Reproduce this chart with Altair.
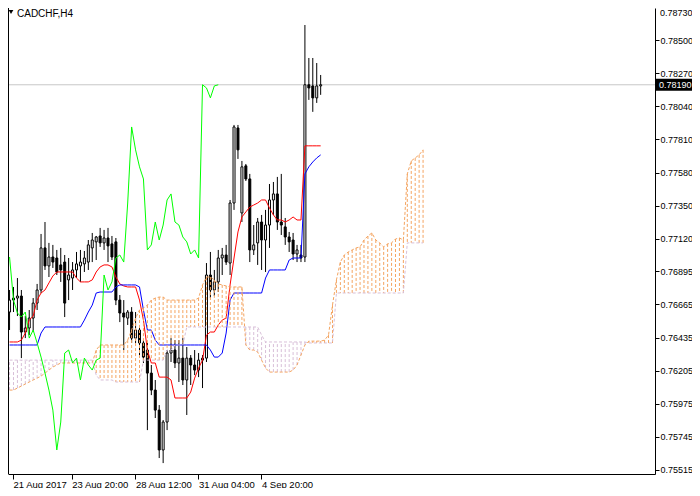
import altair as alt
import pandas as pd

symbol = "CADCHF,H4"
last_price = 0.78190

# H4 candles (bar index 0..79)
opens = [0.76612, 0.76695, 0.76709, 0.76723, 0.76473, 0.76501, 0.76570, 0.76674, 0.76765, 0.77057,
         0.76932, 0.76994, 0.76987, 0.76939, 0.76959, 0.76835, 0.76848, 0.76904, 0.76932, 0.76946,
         0.76959, 0.77057, 0.77099, 0.77140, 0.77092, 0.77126, 0.77085, 0.77099, 0.76695, 0.76605,
         0.76570, 0.76612, 0.76431, 0.76487, 0.76397, 0.76348, 0.76188, 0.76070, 0.75931, 0.75654,
         0.75848, 0.76327, 0.76348, 0.76258, 0.76292, 0.76140, 0.76292, 0.76244, 0.76209, 0.76278,
         0.76292, 0.76869, 0.76765, 0.76821, 0.76987, 0.77008, 0.76952, 0.77369, 0.77890, 0.77300,
         0.77627, 0.77536, 0.77043, 0.77092, 0.77237, 0.77112, 0.77216, 0.77390, 0.77432, 0.77237,
         0.77203, 0.77133, 0.77112, 0.77015, 0.77008, 0.76994, 0.78190, 0.78182, 0.78099, 0.78182]
highs = [0.76765, 0.76786, 0.76848, 0.76765, 0.76584, 0.76626, 0.76709, 0.76807, 0.77154, 0.77237,
         0.77092, 0.77078, 0.77043, 0.77057, 0.77008, 0.76987, 0.76959, 0.77029, 0.77043, 0.77036,
         0.77112, 0.77161, 0.77140, 0.77196, 0.77182, 0.77196, 0.77140, 0.77126, 0.76730, 0.76695,
         0.76626, 0.76646, 0.76612, 0.76522, 0.76417, 0.76397, 0.76244, 0.76140, 0.75966, 0.75862,
         0.76348, 0.76431, 0.76417, 0.76417, 0.76431, 0.76369, 0.76313, 0.76348, 0.76327, 0.76313,
         0.76952, 0.77029, 0.76904, 0.77043, 0.77057, 0.77078, 0.77390, 0.77911, 0.77911, 0.77661,
         0.77640, 0.77571, 0.77216, 0.77265, 0.77286, 0.77321, 0.77501, 0.77515, 0.77550, 0.77571,
         0.77265, 0.77168, 0.77161, 0.77078, 0.77078, 0.78605, 0.78376, 0.78376, 0.78341, 0.78258]
lows = [0.76487, 0.76612, 0.76584, 0.76292, 0.76431, 0.76452, 0.76473, 0.76626, 0.76744, 0.76904,
        0.76855, 0.76918, 0.76869, 0.76821, 0.76577, 0.76695, 0.76765, 0.76848, 0.76821, 0.76890,
        0.76904, 0.76959, 0.76973, 0.77064, 0.77043, 0.76959, 0.76973, 0.76660, 0.76542, 0.76348,
        0.76522, 0.76397, 0.76397, 0.76313, 0.76258, 0.75792, 0.76035, 0.75876, 0.75598, 0.75563,
        0.75792, 0.76265, 0.76223, 0.76126, 0.76105, 0.75897, 0.76105, 0.76174, 0.76160, 0.76084,
        0.76265, 0.76709, 0.76723, 0.76751, 0.76869, 0.76939, 0.76869, 0.77321, 0.77675, 0.77237,
        0.77522, 0.76959, 0.77008, 0.76939, 0.76904, 0.76890, 0.77057, 0.77286, 0.77182, 0.77147,
        0.77078, 0.77029, 0.76973, 0.76959, 0.76959, 0.76959, 0.78085, 0.78002, 0.78064, 0.78120]
closes = [0.76695, 0.76709, 0.76723, 0.76473, 0.76501, 0.76570, 0.76674, 0.76765, 0.77057, 0.76932,
          0.76994, 0.76959, 0.76890, 0.76904, 0.76674, 0.76869, 0.76904, 0.76946, 0.76959, 0.76987,
          0.77078, 0.77112, 0.77133, 0.77092, 0.77126, 0.77071, 0.76994, 0.76695, 0.76605, 0.76577,
          0.76612, 0.76431, 0.76487, 0.76397, 0.76299, 0.76188, 0.76070, 0.75931, 0.75654, 0.75848,
          0.76327, 0.76348, 0.76258, 0.76292, 0.76140, 0.76292, 0.76244, 0.76209, 0.76278, 0.76292,
          0.76869, 0.76765, 0.76821, 0.76987, 0.77008, 0.76959, 0.77369, 0.77897, 0.77738, 0.77620,
          0.77536, 0.77043, 0.77078, 0.77237, 0.77112, 0.77216, 0.77390, 0.77432, 0.77237, 0.77216,
          0.77133, 0.77099, 0.77015, 0.77043, 0.76987, 0.78190, 0.78168, 0.78099, 0.78182, 0.78190]

# Ichimoku lines (bar index 0..79)
tenkan = [0.76404, 0.76404, 0.76404, 0.76417, 0.76466, 0.76556, 0.76584, 0.76695, 0.76744, 0.76765,
          0.76814, 0.76862, 0.76890, 0.76890, 0.76890, 0.76890, 0.76890, 0.76848, 0.76821, 0.76821,
          0.76821, 0.76835, 0.76890, 0.76925, 0.76939, 0.76939, 0.76925, 0.76855, 0.76807, 0.76793,
          0.76786, 0.76786, 0.76786, 0.76695, 0.76556, 0.76348, 0.76258, 0.76258, 0.76160, 0.76160,
          0.76160, 0.76140, 0.76015, 0.76015, 0.76015, 0.76015, 0.76056, 0.76153, 0.76223, 0.76278,
          0.76452, 0.76473, 0.76473, 0.76522, 0.76556, 0.76570, 0.76800, 0.76987, 0.77168, 0.77272,
          0.77307, 0.77341, 0.77355, 0.77369, 0.77390, 0.77390, 0.77334, 0.77286, 0.77251, 0.77251,
          0.77237, 0.77251, 0.77272, 0.77251, 0.77251, 0.77766, 0.77766, 0.77766, 0.77766, 0.77766]
kijun = [0.76383, 0.76383, 0.76383, 0.76383, 0.76383, 0.76383, 0.76383, 0.76383, 0.76466, 0.76508,
         0.76508, 0.76508, 0.76508, 0.76508, 0.76508, 0.76508, 0.76508, 0.76508, 0.76508, 0.76556,
         0.76612, 0.76660, 0.76744, 0.76751, 0.76751, 0.76751, 0.76751, 0.76786, 0.76800, 0.76800,
         0.76800, 0.76800, 0.76800, 0.76786, 0.76626, 0.76487, 0.76487, 0.76417, 0.76383, 0.76383,
         0.76383, 0.76383, 0.76383, 0.76383, 0.76383, 0.76383, 0.76383, 0.76383, 0.76383, 0.76383,
         0.76383, 0.76348, 0.76299, 0.76299, 0.76327, 0.76466, 0.76695, 0.76744, 0.76744, 0.76744,
         0.76744, 0.76744, 0.76744, 0.76744, 0.76744, 0.76848, 0.76904, 0.76904, 0.76904, 0.76904,
         0.76904, 0.76973, 0.76987, 0.76987, 0.76987, 0.77571, 0.77620, 0.77654, 0.77682, 0.77703]

# Senkou spans (bar index 0..105, shifted 26 bars ahead)
span_a = [0.76070, 0.76070, 0.76084, 0.76098, 0.76112, 0.76126, 0.76140, 0.76153, 0.76167, 0.76188,
          0.76209, 0.76230, 0.76244, 0.76258, 0.76258, 0.76258, 0.76258, 0.76258, 0.76258, 0.76258,
          0.76258, 0.76258, 0.76348, 0.76383, 0.76383, 0.76383, 0.76383, 0.76383, 0.76383, 0.76383,
          0.76417, 0.76487, 0.76570, 0.76626, 0.76639, 0.76660, 0.76695, 0.76709, 0.76716, 0.76716,
          0.76695, 0.76695, 0.76695, 0.76695, 0.76695, 0.76695, 0.76695, 0.76695, 0.76709, 0.76800,
          0.76855, 0.76855, 0.76835, 0.76807, 0.76800, 0.76793, 0.76786, 0.76786, 0.76786, 0.76786,
          0.76383, 0.76348, 0.76348, 0.76334, 0.76278, 0.76223, 0.76195, 0.76195, 0.76195, 0.76195,
          0.76195, 0.76195, 0.76209, 0.76244, 0.76313, 0.76383, 0.76410, 0.76410, 0.76410, 0.76410,
          0.76417, 0.76452, 0.76660, 0.76835, 0.76959, 0.77008, 0.77029, 0.77043, 0.77057, 0.77064,
          0.77112, 0.77140, 0.77161, 0.77112, 0.77092, 0.77064, 0.77085, 0.77092, 0.77119, 0.77126,
          0.77112, 0.77571, 0.77661, 0.77682, 0.77703, 0.77738]
span_b = [0.76278, 0.76278, 0.76278, 0.76278, 0.76278, 0.76278, 0.76278, 0.76278, 0.76278, 0.76278,
          0.76278, 0.76278, 0.76278, 0.76278, 0.76278, 0.76278, 0.76278, 0.76278, 0.76278, 0.76278,
          0.76278, 0.76278, 0.76174, 0.76140, 0.76140, 0.76140, 0.76140, 0.76126, 0.76126, 0.76126,
          0.76126, 0.76126, 0.76126, 0.76126, 0.76278, 0.76278, 0.76278, 0.76278, 0.76278, 0.76278,
          0.76348, 0.76348, 0.76383, 0.76383, 0.76383, 0.76508, 0.76508, 0.76508, 0.76508, 0.76508,
          0.76508, 0.76508, 0.76508, 0.76508, 0.76508, 0.76508, 0.76508, 0.76508, 0.76508, 0.76508,
          0.76508, 0.76508, 0.76508, 0.76508, 0.76452, 0.76404, 0.76404, 0.76404, 0.76404, 0.76404,
          0.76404, 0.76404, 0.76404, 0.76404, 0.76404, 0.76404, 0.76397, 0.76397, 0.76397, 0.76397,
          0.76397, 0.76397, 0.76397, 0.76744, 0.76744, 0.76744, 0.76744, 0.76744, 0.76744, 0.76744,
          0.76744, 0.76744, 0.76744, 0.76744, 0.76744, 0.76744, 0.76744, 0.76744, 0.76744, 0.76744,
          0.76744, 0.77092, 0.77092, 0.77092, 0.77092, 0.77092]

y_ticks = [0.78730, 0.78500, 0.78270, 0.78040, 0.77810, 0.77580, 0.77350, 0.77120,
           0.76895, 0.76665, 0.76435, 0.76205, 0.75975, 0.75745, 0.75515]
x_tick_bars = [0.875, 15.8, 31.95, 47.95, 63.95]
x_tick_labels = ["21 Aug 2017", "23 Aug 20:00", "28 Aug 12:00", "31 Aug 04:00", "4 Sep 20:00"]

CHIKOU_SHIFT = 26

# ---- tables
n = len(closes)
candles = pd.DataFrame({"i": list(range(n)), "open": opens, "high": highs, "low": lows, "close": closes})
candles["up"] = candles["close"] >= candles["open"]
lines = pd.DataFrame({"i": list(range(n)), "tenkan": tenkan, "kijun": kijun})
chikou = pd.DataFrame({"i": list(range(n - CHIKOU_SHIFT)), "chikou": closes[CHIKOU_SHIFT:]})
cloud = pd.DataFrame({"i": list(range(len(span_a))), "a": span_a, "b": span_b})
cloud["kind"] = ["bull" if a >= b else "bear" for a, b in zip(span_a, span_b)]
price_df = pd.DataFrame({"p": [last_price], "txt": [f"{last_price:.5f}"]})
top_df = pd.DataFrame({"p": [y_ticks[0]], "txt": [f"{y_ticks[0]:.5f}"]})

FONT = "Liberation Sans"
W, H = 647, 466

# label expression for the time axis
expr = "''"
for pos, lab in reversed(list(zip(x_tick_bars, x_tick_labels))):
    expr = f"datum.value <= {pos + 0.5} ? '{lab}' : ({expr})"

xs = alt.Scale(domain=[0.875, 162.625], nice=False, zero=False)
ys = alt.Scale(domain=[0.754872, 0.787231], nice=False, zero=False)

xaxis = alt.Axis(values=x_tick_bars, labelExpr=expr, title=None, grid=False,
                 domain=True, domainColor="black", tickColor="black", tickSize=5,
                 labelAlign="left", labelBaseline="alphabetic", labelPadding=8,
                 labelFont=FONT, labelFontSize=9.5, labelColor="black",
                 labelFlush=False, labelOverlap=False)
yaxis = alt.Axis(orient="right", values=y_ticks, format=".5f", title=None, grid=False,
                 domain=True, domainColor="black", tickColor="black", tickSize=4,
                 labelPadding=1, labelFont=FONT, labelFontSize=9, labelColor="black",
                 labelFlush=False, labelOverlap=False)

X = alt.X("i:Q", scale=xs, axis=xaxis)

def Y(field):
    return alt.Y(f"{field}:Q", scale=ys, axis=yaxis)

price_line = alt.Chart(price_df).mark_rule(color="#c8c8c8", strokeWidth=1).encode(y=Y("p"))

wicks = alt.Chart(candles).mark_rule(color="black", strokeWidth=1, clip=True).encode(
    x=X, y=Y("low"), y2="high")

bodies = alt.Chart(candles).mark_bar(size=2, stroke="black", strokeWidth=1, clip=True).encode(
    x=X, y=Y("open"), y2="close",
    fill=alt.condition("datum.up", alt.value("white"), alt.value("black")))

cloud_cols = alt.Chart(cloud).mark_rule(strokeDash=[3, 2], strokeWidth=1, clip=True).encode(
    x=X, y=Y("a"), y2="b",
    color=alt.Color("kind:N", scale=alt.Scale(domain=["bull", "bear"], range=["#F4A460", "#D8BFD8"]),
                    legend=None))

a_line = alt.Chart(cloud).mark_line(color="#F4A460", strokeWidth=1, strokeDash=[3, 2], clip=True).encode(
    x=X, y=Y("a"))
b_line = alt.Chart(cloud).mark_line(color="#D8BFD8", strokeWidth=1, strokeDash=[3, 2], clip=True).encode(
    x=X, y=Y("b"))

tenkan_l = alt.Chart(lines).mark_line(color="#FF0000", strokeWidth=1, clip=True).encode(x=X, y=Y("tenkan"))
kijun_l = alt.Chart(lines).mark_line(color="#0000FF", strokeWidth=1, clip=True).encode(x=X, y=Y("kijun"))
chikou_l = alt.Chart(chikou).mark_line(color="#00FF00", strokeWidth=1, clip=True).encode(x=X, y=Y("chikou"))

left_border = alt.Chart(price_df).mark_rule(color="black", strokeWidth=1).encode(
    x=alt.value(0.5), y=alt.value(0), y2=alt.value(H))

title_tri = alt.Chart(price_df).mark_point(shape="triangle-down", filled=True, color="black",
                                           size=22, opacity=1).encode(
    x=alt.value(3), y=alt.value(4))
title_txt = alt.Chart(price_df).mark_text(align="left", baseline="alphabetic", font=FONT,
                                          fontSize=10, color="black").encode(
    x=alt.value(9), y=alt.value(9), text=alt.value(symbol))

top_label = alt.Chart(top_df).mark_text(align="left", baseline="top", font=FONT, fontSize=9,
                                        color="black", clip=False, dy=2).encode(
    x=alt.value(W + 5), y=Y("p"), text="txt:N")

price_box = alt.Chart(price_df).mark_tick(orient="vertical", size=12, thickness=36,
                                          color="black", opacity=1, clip=False).encode(
    x=alt.value(W + 19), y=Y("p"))
price_txt = alt.Chart(price_df).mark_text(align="left", baseline="middle", font=FONT,
                                          fontSize=9, color="white", clip=False).encode(
    x=alt.value(W + 4), y=Y("p"), text="txt:N")

chart = alt.layer(
    price_line, wicks, bodies, tenkan_l, kijun_l, cloud_cols, a_line, b_line, chikou_l,
    left_border, title_tri, title_txt, top_label, price_box, price_txt
).properties(
    width=W, height=H,
    autosize=alt.AutoSizeParams(type="none"),
    padding={"left": 0, "top": 0, "right": 37, "bottom": 14},
    background="white",
).configure_view(stroke=None)

chart.save("out.html", embed_options={"renderer": "svg", "actions": False})
